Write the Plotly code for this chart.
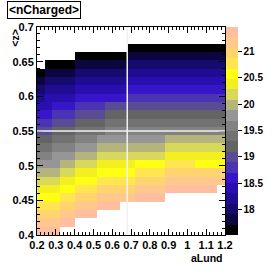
import plotly.graph_objects as go

N = None
# bin edges
aLund_edges = [0.2, 0.24, 0.28, 0.32, 0.36, 0.4, 0.44, 0.48, 0.52, 0.56, 0.6, 0.64, 0.68,
               0.72, 0.76, 0.8, 0.84, 0.88, 0.92, 0.96, 1.0, 1.04, 1.08, 1.12, 1.16, 1.2]
z_edges = [0.4, 0.412, 0.424, 0.436, 0.448, 0.46, 0.472, 0.484, 0.496, 0.508, 0.52, 0.532, 0.544,
           0.556, 0.568, 0.58, 0.592, 0.604, 0.616, 0.628, 0.64, 0.652, 0.664, 0.676, 0.688, 0.7]

# <nCharged> per cell, rows from <z>=0.4 upward, columns aLund 0.2 -> 1.2
nCharged = [
    [21.4]*3 + [N]*22,
    [21.2]*3 + [21.4]*2 + [N]*20,
    [21.0]*3 + [21.2]*2 + [21.4]*3 + [N]*17,
    [20.8]*3 + [21.0]*2 + [21.2]*3 + [21.4]*3 + [N]*14,
    [20.6]*3 + [20.8]*2 + [21.0]*3 + [21.2]*5 + [21.4]*4 + [N]*8,
    [20.4]*3 + [20.6]*2 + [20.8]*3 + [21.0]*5 + [21.2]*4 + [21.4]*7 + [N],
    [20.2]*3 + [20.4]*2 + [20.6]*3 + [20.8]*5 + [21.0]*4 + [21.2]*8,
    [20.0]*3 + [20.2]*2 + [20.4]*3 + [20.6]*5 + [20.8]*4 + [21.0]*8,
    [19.8]*3 + [20.0]*2 + [20.2]*3 + [20.4]*5 + [20.6]*4 + [20.8]*4 + [20.6]*4,
    [19.6]*2 + [19.8]*3 + [20.0]*3 + [20.2]*9 + [20.4]*8,
    [19.4]*2 + [19.6]*3 + [19.8]*3 + [20.0]*9 + [20.2]*8,
    [19.2]*2 + [19.4]*3 + [19.6]*3 + [19.8]*9 + [20.0]*8,
    [19.0]*2 + [19.2]*3 + [19.4]*4 + [19.6]*16,
    [18.8]*2 + [19.0]*3 + [19.2]*4 + [19.4]*16,
    [18.6]*2 + [18.8]*3 + [19.0]*4 + [19.2]*16,
    [18.4]*2 + [18.6]*3 + [18.8]*4 + [19.0]*16,
    [18.2] + [18.4]*4 + [18.6]*7 + [18.8]*13,
    [18.0] + [18.2]*4 + [18.4]*7 + [18.6]*13,
    [17.8] + [18.0]*4 + [18.2]*7 + [18.4]*13,
    [17.6] + [17.8]*4 + [18.0]*7 + [18.2]*13,
    [N] + [17.6]*4 + [17.8]*7 + [18.0]*13,
    [N]*5 + [17.6]*7 + [17.8]*13,
    [N]*12 + [17.6]*13,
    [N]*25,
    [N]*25,
]

palette = ["#000000", "#0c0640", "#160a6e", "#200c92", "#2a0fb0", "#3616c8", "#4a34b4",
           "#5a4c94", "#646464", "#727272", "#828282", "#969696", "#b4b47c", "#d8d85a",
           "#f4f020", "#ffff14", "#ffe650", "#ffd46e", "#ffc88c", "#ffbea0"]
zmin, zmax = 17.52, 21.46

xticks = [0.2, 0.3, 0.4, 0.5, 0.6, 0.7, 0.8, 0.9, 1.0, 1.1, 1.2]
xticktext = ["0.2", "0.3", "0.4", "0.5", "0.6", "0.7", "0.8", "0.9", "1", "1.1", "1.2"]
yticks = [0.4, 0.45, 0.5, 0.55, 0.6, 0.65, 0.7]
yticktext = ["0.4", "0.45", "0.5", "0.55", "0.6", "0.65", "0.7"]
cticks = [18, 18.5, 19, 19.5, 20, 20.5, 21]
cticktext = ["18", "18.5", "19", "19.5", "20", "20.5", "21"]

aLund_default = 0.68
z_ref = 0.55

n = len(palette)
colorscale = []
for k, c in enumerate(palette):
    colorscale.append([k / n, c])
    colorscale.append([(k + 1) / n, c])

FONT = "Liberation Sans, Arial, sans-serif"

fig = go.Figure(go.Heatmap(
    x=aLund_edges, y=z_edges, z=nCharged,
    colorscale=colorscale, zmin=zmin, zmax=zmax,
    hoverongaps=False,
    colorbar=dict(
        x=1.005, xanchor="left", xref="paper",
        y=0.5, yanchor="middle", len=1.0, lenmode="fraction",
        thickness=12, thicknessmode="pixels",
        outlinewidth=0,
        ticks="outside", ticklen=4, tickcolor="black",
        tickvals=cticks, ticktext=cticktext,
        tickfont=dict(family=FONT, size=10, color="black", weight="bold"),
        xpad=0, ypad=0,
    ),
))

fig.add_shape(type="line", x0=aLund_default, x1=aLund_default, y0=0.4, y1=0.7,
              xref="x", yref="y", line=dict(color="#f2f2f2", width=1.5))
fig.add_shape(type="line", x0=0.2, x1=1.2, y0=z_ref, y1=z_ref,
              xref="x", yref="y", line=dict(color="#f2f2f2", width=1.5))

axis_common = dict(
    showline=True, linecolor="black", linewidth=1, mirror="ticks",
    ticks="inside", ticklen=6, tickcolor="black", tickwidth=1,
    showgrid=False, zeroline=False,
    tickfont=dict(family=FONT, size=11, color="black", weight="bold"),
)

fig.update_xaxes(range=[0.2, 1.2], tickvals=xticks, ticktext=xticktext,
                 minor=dict(dtick=0.02, tick0=0.2, ticks="inside", ticklen=3, tickcolor="black"),
                 **axis_common)
fig.update_yaxes(range=[0.4, 0.7], tickvals=yticks, ticktext=yticktext,
                 minor=dict(dtick=0.01, tick0=0.4, ticks="inside", ticklen=3, tickcolor="black"),
                 **axis_common)

fig.add_annotation(text="&lt;nCharged&gt;", xref="paper", yref="paper",
                   x=-0.158, y=1.125, xanchor="left", yanchor="top", showarrow=False,
                   font=dict(family=FONT, size=12, color="black", weight="bold"),
                   bordercolor="black", borderwidth=1, borderpad=1, bgcolor="white")
fig.add_annotation(text="aLund", xref="paper", yref="paper",
                   x=1.0, y=-0.112, xanchor="right", yanchor="middle", showarrow=False,
                   font=dict(family=FONT, size=10.5, color="black", weight="bold"))
fig.add_annotation(text="&lt;z&gt;", xref="paper", yref="paper", textangle=-90,
                   x=-0.119, y=1.0, xanchor="center", yanchor="top", showarrow=False,
                   font=dict(family=FONT, size=10.5, color="black", weight="bold"))

fig.update_layout(
    width=276, height=276,
    margin=dict(l=34, r=40, t=27, b=41),
    paper_bgcolor="white", plot_bgcolor="white",
    showlegend=False,
)

fig.write_html("out.html", config={"displayModeBar": False},
               post_script="document.body.style.margin='0px';")
